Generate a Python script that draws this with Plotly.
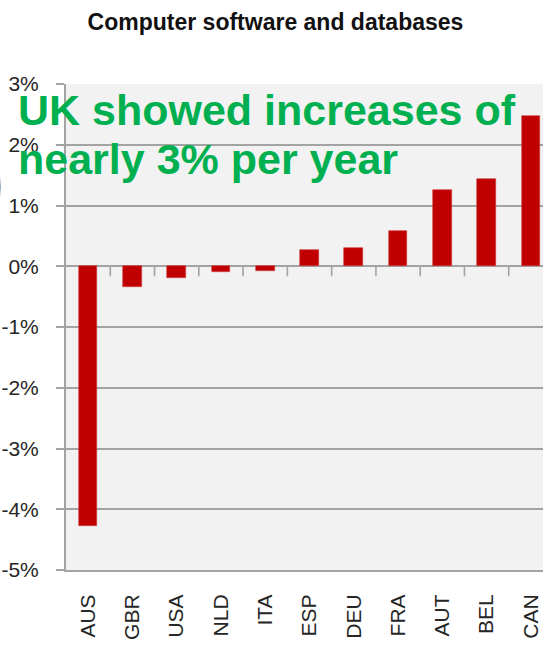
import plotly.graph_objects as go

# Average annual change in investment in computer software and databases
countries = ["AUS", "GBR", "USA", "NLD", "ITA", "ESP", "DEU", "FRA", "AUT", "BEL", "CAN"]
growth_pct = [-4.28, -0.34, -0.19, -0.10, -0.08, 0.27, 0.30, 0.58, 1.26, 1.43, 2.48]
y_ticks = [-5, -4, -3, -2, -1, 0, 1, 2, 3]
y_ticklabels = [f"{v}%" for v in y_ticks]

title_text = "Computer software and databases"
callout_lines = ["UK showed increases of", "nearly 3% per year"]

W, H = 543, 649
M_L, M_R, M_T, M_B = 66, 0, 84, 79

GRID = "#a3a3a3"
BAR = "#c00000"
TEXT = "#262626"
REGULAR = "Liberation Sans, Arial, sans-serif"

x_idx = list(range(len(countries)))

fig = go.Figure(
    go.Bar(
        x=x_idx,
        y=growth_pct,
        width=0.42,
        marker=dict(color=BAR, line=dict(color="#d23a3a", width=0.6)),
        hoverinfo="skip",
    )
)

# small category separator ticks hanging below the zero line
shapes = []
for i in range(len(countries) - 1):
    shapes.append(
        dict(
            type="line", xref="x", yref="y",
            ysizemode="pixel", yanchor=0,
            x0=i + 0.5, x1=i + 0.5, y0=0, y1=-10,
            line=dict(color=GRID, width=1.6),
            layer="below",
        )
    )

# partially visible round badge at the left edge of the slide
plot_w = W - M_L - M_R
plot_h = H - M_T - M_B
cx, cy, r = -104, 187, 104
shapes.append(
    dict(
        type="circle", xref="paper", yref="paper",
        x0=(cx - r - M_L) / plot_w, x1=(cx + r - M_L) / plot_w,
        y0=(H - M_B - (cy + r)) / plot_h, y1=(H - M_B - (cy - r)) / plot_h,
        fillcolor="#3d63a8", line=dict(color="#2a4c8c", width=1),
        layer="above",
    )
)

annotations = []
line_centres_px = [110, 159]
for txt, py in zip(callout_lines, line_centres_px):
    annotations.append(
        dict(
            text=f"<b>{txt}</b>",
            xref="paper", yref="paper",
            x=(16 - M_L) / plot_w, y=(H - M_B - py) / plot_h,
            xanchor="left", yanchor="middle",
            showarrow=False,
            font=dict(family=REGULAR, size=43, color="#00b050"),
        )
    )

fig.update_layout(
    width=W, height=H,
    margin=dict(l=M_L, r=M_R, t=M_T, b=M_B, pad=0),
    paper_bgcolor="white",
    plot_bgcolor="#f2f2f2",
    showlegend=False,
    bargap=0,
    title=dict(
        text=f"<b>{title_text}</b>",
        xref="container", yref="container",
        x=275.5 / W, y=1 - 22 / H,
        xanchor="center", yanchor="middle",
        font=dict(family=REGULAR, size=23, color="#111111"),
    ),
    xaxis=dict(
        range=[-0.5, 10.5 - 10 / 44.3],
        tickmode="array",
        tickvals=x_idx,
        ticktext=countries,
        tickangle=-90,
        ticks="",
        ticklabelstandoff=14,
        tickfont=dict(family=REGULAR, size=21, color=TEXT),
        showgrid=False,
        zeroline=False,
        showline=True,
        linecolor=GRID,
        linewidth=2,
        fixedrange=True,
    ),
    yaxis=dict(
        range=[-5, 3],
        tickmode="array",
        tickvals=y_ticks,
        ticktext=y_ticklabels,
        ticks="outside",
        ticklen=8,
        tickwidth=1.6,
        tickcolor=GRID,
        ticklabelstandoff=13,
        tickfont=dict(family=REGULAR, size=21, color=TEXT),
        showgrid=True,
        gridcolor=GRID,
        gridwidth=1.8,
        zeroline=True,
        zerolinecolor=GRID,
        zerolinewidth=2,
        showline=True,
        linecolor=GRID,
        linewidth=2,
        fixedrange=True,
    ),
    shapes=shapes,
    annotations=annotations,
)

fig.write_html("out.html")
